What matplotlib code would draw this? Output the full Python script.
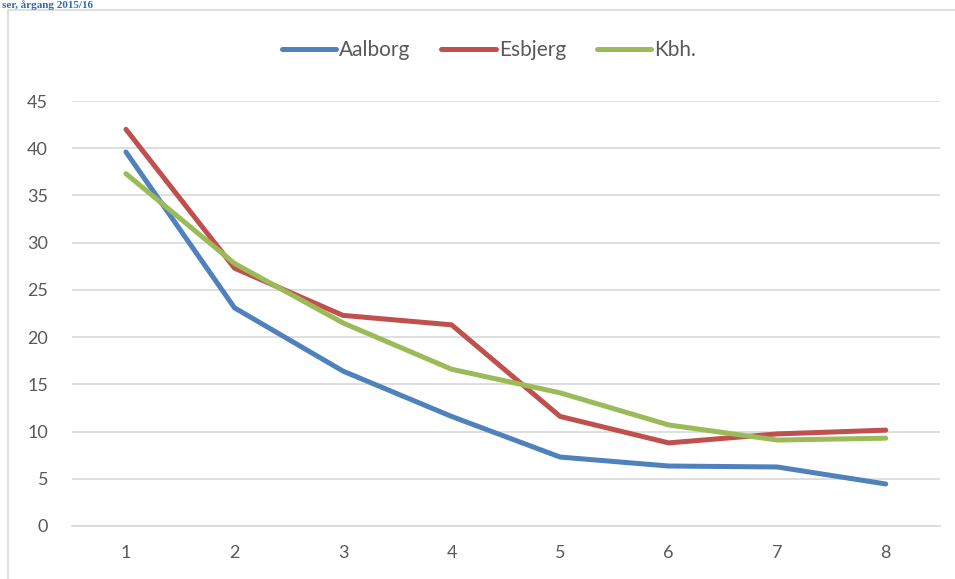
import matplotlib.pyplot as plt
from matplotlib.patches import Rectangle

# data
kategorier = [1, 2, 3, 4, 5, 6, 7, 8]
aalborg = [39.6, 23.1, 16.4, 11.6, 7.3, 6.35, 6.25, 4.45]
esbjerg = [42.0, 27.3, 22.3, 21.3, 11.6, 8.8, 9.75, 10.15]
kbh = [37.3, 27.8, 21.5, 16.6, 14.1, 10.7, 9.1, 9.3]
yticks = [0, 5, 10, 15, 20, 25, 30, 35, 40, 45]

plt.rcParams['font.family'] = ['Lato', 'DejaVu Sans']

fig = plt.figure(figsize=(9.55, 5.79), dpi=100)

# chart frame and heading above it
fig.patches.append(Rectangle((8 / 955, -0.1), 1.2, 1 - 10 / 579 + 0.1,
                             transform=fig.transFigure, fill=False,
                             edgecolor='#d9d9d9', linewidth=1.2))
fig.text(0.002, 0.999, 'ser, årgang 2015/16', color='#2e6db0',
         fontsize=8, family='Liberation Serif', fontweight='bold',
         ha='left', va='top')

ax = fig.add_axes([71.7 / 955, 1 - 526 / 579, (940 - 71.7) / 955, (526 - 101) / 579])

ax.plot(kategorier, aalborg, color='#4f81bd', lw=3.6, solid_capstyle='round',
        solid_joinstyle='round', label='Aalborg')
ax.plot(kategorier, esbjerg, color='#c0504d', lw=3.6, solid_capstyle='round',
        solid_joinstyle='round', label='Esbjerg')
ax.plot(kategorier, kbh, color='#9bbb59', lw=3.6, solid_capstyle='round',
        solid_joinstyle='round', label='Kbh.')

ax.set_xlim(0.5, 8.5)
ax.set_ylim(0, 45)
ax.set_yticks(yticks)
ax.set_xticks(kategorier)
ax.grid(axis='y', color='#d9d9d9', lw=1.2)
ax.set_axisbelow(True)
for s in ['top', 'right', 'left']:
    ax.spines[s].set_visible(False)
ax.spines['bottom'].set_color('#d9d9d9')
ax.spines['bottom'].set_linewidth(1.2)
ax.tick_params(axis='both', length=0, labelsize=13, labelcolor='#595959')
ax.tick_params(axis='y', pad=17)
ax.tick_params(axis='x', pad=14)

ax.legend(loc='center', bbox_to_anchor=((489 - 71.7) / 868.3, 1 + 51 / 425), ncol=3,
          frameon=False, fontsize=15, labelcolor='#595959', handlelength=2.6,
          handletextpad=0.15, columnspacing=1.5)

fig.savefig('out.png', dpi=100)
